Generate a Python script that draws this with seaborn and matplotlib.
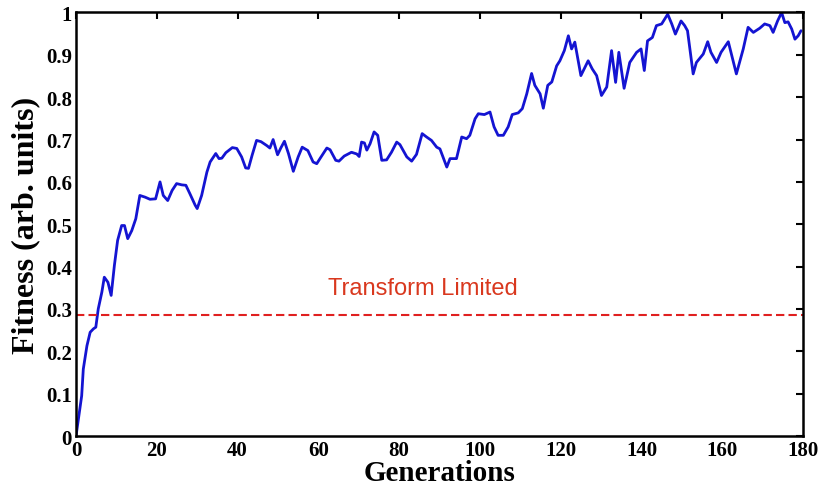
import pandas as pd
import seaborn as sns
import matplotlib.pyplot as plt

# Values
generations = [
    0.0, 1.4, 1.8, 2.7, 3.5, 4.3, 4.9, 5.5, 6.4, 7.0, 7.9, 8.7, 9.5, 10.3,
    11.3, 12.0, 12.8, 13.8, 14.8, 15.8, 17.1, 18.3, 19.7, 20.8, 21.6, 22.7,
    23.8, 24.9, 26.2, 27.2, 28.2, 29.5, 30.0, 31.1, 32.4, 33.2, 34.6, 35.4,
    36.1, 37.1, 38.7, 39.8, 41.0, 42.0, 42.7, 43.6, 44.7, 45.8, 47.2, 48.0,
    48.8, 49.9, 50.7, 51.6, 52.6, 53.8, 55.0, 56.0, 57.4, 58.7, 59.6, 60.4,
    62.1, 62.9, 64.3, 65.1, 66.4, 68.2, 69.5, 70.1, 70.7, 71.4, 72.0, 72.8,
    73.8, 74.7, 75.7, 76.9, 78.1, 79.4, 80.2, 81.9, 83.1, 84.3, 85.7, 86.8,
    88.0, 89.3, 90.1, 90.9, 91.8, 92.6, 94.2, 95.5, 96.7, 97.5, 98.8, 99.6,
    101.1, 102.5, 103.5, 104.5, 105.8, 107.0, 108.0, 109.5, 110.5, 111.6,
    112.8, 113.6, 114.9, 115.7, 116.8, 117.8, 119.0, 119.8, 120.9, 121.9,
    122.7, 123.5, 125.0, 126.8, 127.8, 128.9, 130.1, 131.4, 132.6, 133.6,
    134.4, 135.7, 137.1, 138.8, 139.9, 140.7, 141.5, 142.7, 143.7, 145.0,
    146.5, 147.5, 148.4, 149.8, 150.7, 151.4, 152.8, 153.6, 155.3, 156.4,
    157.2, 158.6, 159.7, 161.5, 163.5, 165.2, 166.4, 167.7, 169.3, 170.5,
    171.8, 172.6, 173.7, 174.7, 175.5, 176.3, 177.2, 178.0, 178.8, 179.5,
]
fitness = [
    0.000, 0.095, 0.158, 0.213, 0.245, 0.253, 0.257, 0.300, 0.340, 0.375,
    0.363, 0.332, 0.403, 0.462, 0.497, 0.497, 0.466, 0.485, 0.513, 0.568,
    0.564, 0.559, 0.560, 0.600, 0.568, 0.556, 0.580, 0.596, 0.593, 0.592,
    0.572, 0.545, 0.537, 0.568, 0.623, 0.647, 0.667, 0.655, 0.656, 0.669,
    0.681, 0.679, 0.659, 0.633, 0.632, 0.663, 0.698, 0.695, 0.686, 0.680,
    0.700, 0.664, 0.680, 0.696, 0.667, 0.625, 0.659, 0.682, 0.674, 0.647,
    0.643, 0.655, 0.680, 0.676, 0.651, 0.649, 0.661, 0.670, 0.666, 0.660,
    0.694, 0.692, 0.675, 0.690, 0.718, 0.710, 0.651, 0.652, 0.670, 0.694,
    0.688, 0.659, 0.649, 0.665, 0.714, 0.706, 0.698, 0.682, 0.678, 0.658,
    0.635, 0.655, 0.655, 0.706, 0.702, 0.710, 0.749, 0.761, 0.759, 0.765,
    0.730, 0.710, 0.710, 0.730, 0.759, 0.763, 0.773, 0.808, 0.856, 0.828,
    0.808, 0.774, 0.828, 0.836, 0.874, 0.886, 0.910, 0.945, 0.914, 0.930,
    0.851, 0.886, 0.867, 0.851, 0.804, 0.824, 0.910, 0.835, 0.906, 0.821,
    0.882, 0.906, 0.914, 0.863, 0.933, 0.941, 0.969, 0.973, 0.996, 0.973,
    0.949, 0.980, 0.969, 0.957, 0.855, 0.882, 0.902, 0.931, 0.906, 0.882,
    0.906, 0.931, 0.855, 0.914, 0.965, 0.953, 0.963, 0.973, 0.969, 0.953,
    0.980, 1.000, 0.976, 0.978, 0.961, 0.937, 0.945, 0.957,
]
transform_limited = 0.285
x_ticks = list(range(0, 181, 20))
y_ticks = [0, 0.1, 0.2, 0.3, 0.4, 0.5, 0.6, 0.7, 0.8, 0.9, 1.0]
y_tick_labels = ["0", "0.1", "0.2", "0.3", "0.4", "0.5", "0.6", "0.7", "0.8", "0.9", "1"]

sns.set_theme(style="white")
plt.rcParams["font.family"] = ["Liberation Serif", "DejaVu Serif"]

fig = plt.figure(figsize=(8.21, 4.89), dpi=100)
ax = fig.add_axes([0.0926, 0.1063, 0.8855, 0.8661])

df = pd.DataFrame({"Generations": generations, "Fitness": fitness})
sns.lineplot(data=df, x="Generations", y="Fitness", ax=ax, color="#1414d2",
             linewidth=2.0, sort=False, estimator=None)

# transform-limited reference level
ax.axhline(transform_limited, color="#e02020", linestyle=(0, (4, 2)), linewidth=1.5)
ax.text(86, 0.35, "Transform Limited", color="#d9381e", fontsize=17,
        family=["Liberation Sans"], ha="center", va="center")

ax.set_xlim(0, 180)
ax.set_ylim(0, 1)
ax.set_xticks(x_ticks)
ax.set_xticklabels([str(t) for t in x_ticks])
ax.set_yticks(y_ticks)
ax.set_yticklabels(y_tick_labels)
ax.tick_params(direction="in", top=True, right=True, length=5, width=1.5,
               labelsize=15, pad=3, colors="black")
for lbl in ax.get_xticklabels() + ax.get_yticklabels():
    lbl.set_fontweight("bold")
for sp in ax.spines.values():
    sp.set_color("black")
    sp.set_linewidth(1.8)

ax.set_xlabel("Generations", fontsize=21, fontweight="bold", labelpad=-1, color="black")
ax.set_ylabel("Fitness (arb. units)", fontsize=23, fontweight="bold", labelpad=4, color="black")

fig.savefig("out.png", dpi=100)
